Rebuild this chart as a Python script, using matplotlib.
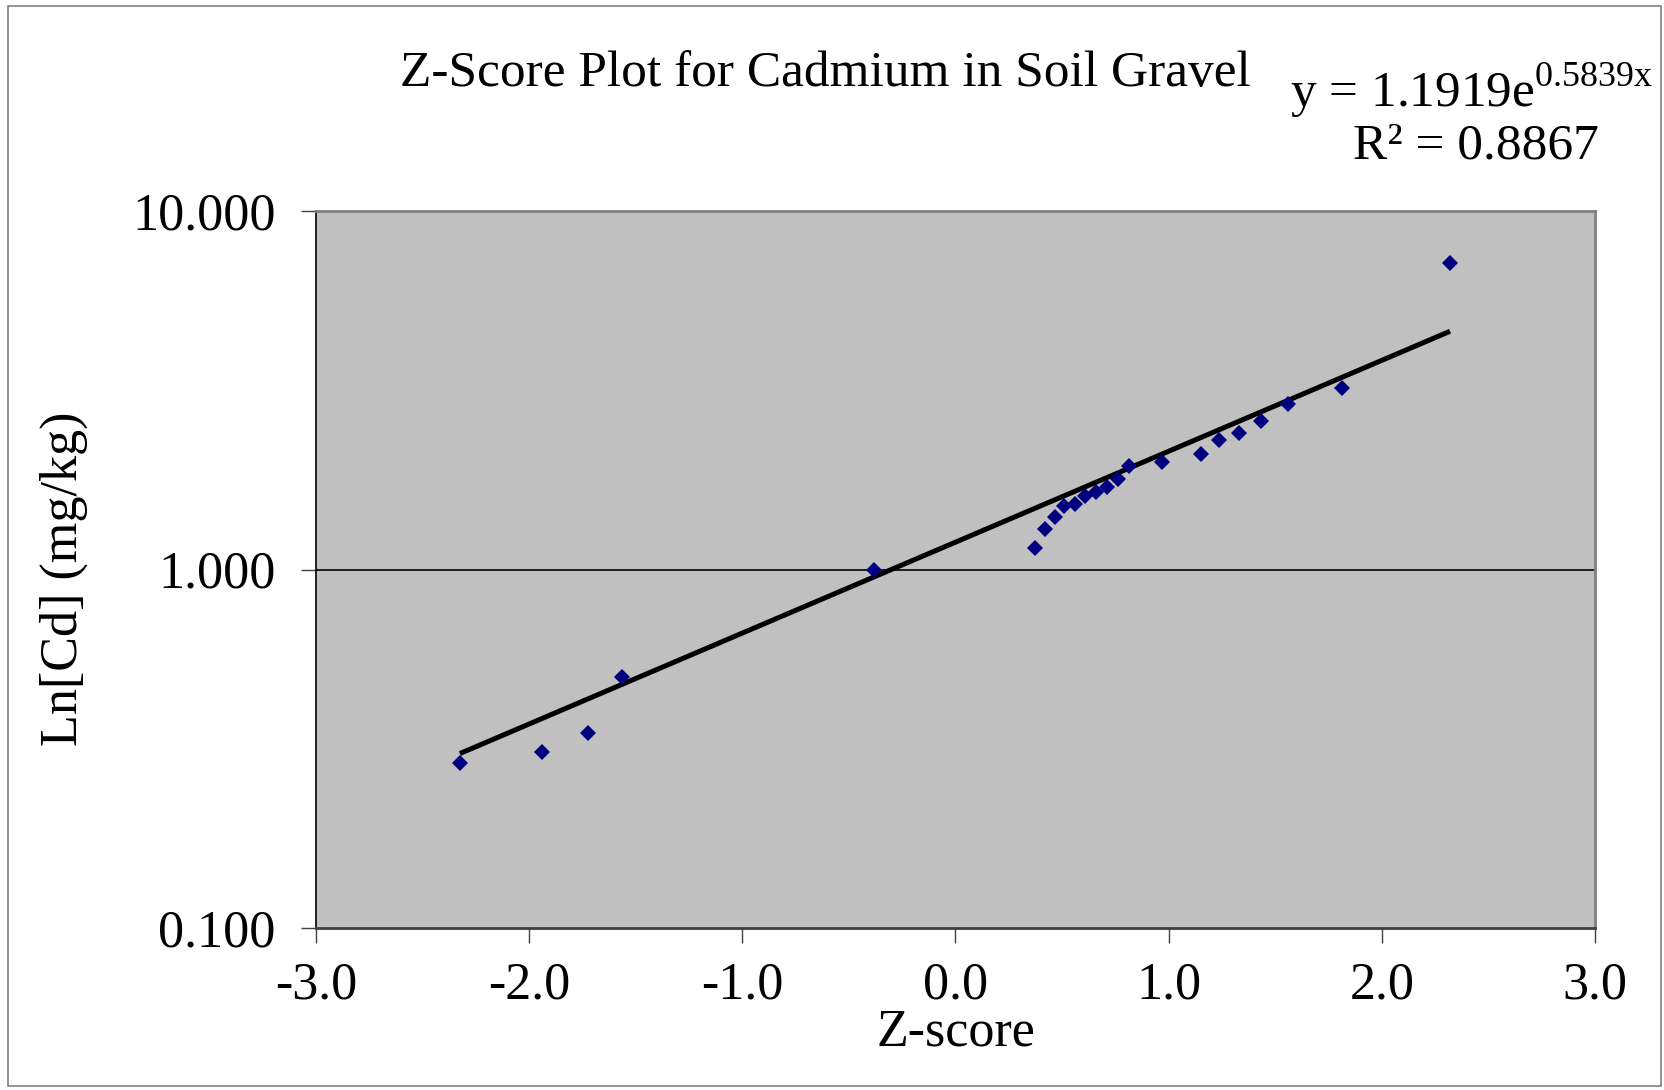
import numpy as np
import matplotlib
matplotlib.use("Agg")
import matplotlib.pyplot as plt
from matplotlib.patches import Rectangle

# ---- data ----
z_scores = [-2.325, -1.940, -1.724, -1.566, -0.382,
            0.375, 0.419, 0.465, 0.508, 0.560, 0.607, 0.657, 0.709, 0.763, 0.815,
            0.969, 1.150, 1.234, 1.328, 1.433, 1.561, 1.814, 2.320]
cd_values = [0.289, 0.309, 0.350, 0.501, 1.000,
             1.149, 1.299, 1.399, 1.501, 1.525, 1.601, 1.643, 1.696, 1.794, 1.950,
             1.996, 2.102, 2.304, 2.405, 2.603, 2.903, 3.202, 7.160]
fit_a = 1.1919
fit_b = 0.5839
fit_r2 = 0.8867
x_ticks = [-3.0, -2.0, -1.0, 0.0, 1.0, 2.0, 3.0]
y_ticks = [0.1, 1.0, 10.0]

title = "Z-Score Plot for Cadmium in Soil Gravel"
xlabel = "Z-score"
ylabel = "Ln[Cd] (mg/kg)"

plt.rcParams['font.family'] = ['Liberation Serif', 'DejaVu Serif']
plt.rcParams['mathtext.fontset'] = 'custom'
plt.rcParams['mathtext.rm'] = 'Liberation Serif'

W, H = 1665, 1090
fig = plt.figure(figsize=(W / 100, H / 100), dpi=100)
fig.patch.set_facecolor('white')

# outer chart border
fig.add_artist(Rectangle((8 / W, 1 - 1086 / H), (1661 - 8) / W, (1086 - 6) / H,
                         transform=fig.transFigure, fill=False,
                         edgecolor='#808080', linewidth=1.2))

L, R, T, B = 316, 1595, 211, 928
ax = fig.add_axes([L / W, 1 - B / H, (R - L) / W, (B - T) / H])
ax.set_facecolor('#C0C0C0')
ax.set_yscale('log')
ax.set_xlim(-3, 3)
ax.set_ylim(0.1, 10)

ax.axhline(1.0, color='black', linewidth=1.2, zorder=1)

xs = np.linspace(min(z_scores), max(z_scores), 50)
ax.plot(xs, fit_a * np.exp(fit_b * xs), color='black', linewidth=3.6, zorder=2,
        solid_capstyle='butt')
ax.plot(z_scores, cd_values, linestyle='none', marker='D', markersize=8.6,
        color='#000080', markeredgewidth=0, zorder=3)

ax.set_xticks(x_ticks)
ax.set_xticklabels([f"{v:.1f}" for v in x_ticks])
ax.set_yticks(y_ticks)
ax.set_yticklabels([f"{v:.3f}" for v in y_ticks])
ax.yaxis.set_minor_locator(matplotlib.ticker.NullLocator())
ax.tick_params(axis='both', which='major', direction='out', length=11, width=1.0,
               color='#404040', labelsize=37.5)
ax.tick_params(axis='y', pad=18)
ax.tick_params(axis='x', pad=13)

for side in ['top', 'right']:
    ax.spines[side].set_color('#808080')
    ax.spines[side].set_linewidth(2)
ax.spines['left'].set_color('black')
ax.spines['left'].set_linewidth(1.2)
ax.spines['bottom'].set_color('#404040')
ax.spines['bottom'].set_linewidth(2)

fig.text(825 / W, 1 - 74 / H, title, ha='center', va='center', fontsize=37)
fig.text(956 / W, 1 - 1033 / H, xlabel, ha='center', va='center', fontsize=37.5)
fig.text(64 / W, 1 - 579 / H, ylabel, ha='center', va='center', fontsize=37.5,
         rotation=90)

fig.text(1653 / W, 1 - 91 / H,
         r"y = %.4fe$^{\mathregular{%.4fx}}$" % (fit_a, fit_b),
         ha='right', va='center', fontsize=37)
fig.text(1476 / W, 1 - 146 / H, "R² = %.4f" % fit_r2,
         ha='center', va='center', fontsize=37)

fig.savefig("out.png", dpi=100)
